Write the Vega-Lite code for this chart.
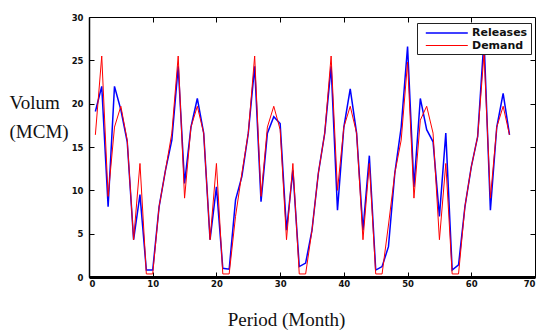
{
  "$schema": "https://vega.github.io/schema/vega-lite/v6.json",
  "width": 446,
  "height": 260,
  "autosize": {"type": "none"},
  "padding": {"left": 89, "top": 17, "right": 9, "bottom": 54},
  "background": "white",
  "config": {
    "view": {"stroke": "black", "strokeWidth": 1},
    "axis": {
      "grid": false,
      "labelFont": "DejaVu Sans",
      "labelFontSize": 8.5,
      "labelFontWeight": "bold",
      "labelColor": "#111",
      "domainColor": "black",
      "tickColor": "black",
      "titleFont": "Liberation Serif",
      "titleFontSize": 19,
      "titleFontWeight": "normal",
      "titleColor": "#111"
    }
  },
  "data": {
    "values": [
      {"month": 1, "Releases": 19.1, "Demand": 16.4},
      {"month": 2, "Releases": 22.0, "Demand": 25.5},
      {"month": 3, "Releases": 8.1, "Demand": 9.3},
      {"month": 4, "Releases": 22.0, "Demand": 17.3},
      {"month": 5, "Releases": 19.3, "Demand": 19.7},
      {"month": 6, "Releases": 15.6, "Demand": 15.8},
      {"month": 7, "Releases": 4.3, "Demand": 4.3},
      {"month": 8, "Releases": 9.5, "Demand": 13.1},
      {"month": 9, "Releases": 0.8, "Demand": 0.35},
      {"month": 10, "Releases": 0.8, "Demand": 0.35},
      {"month": 11, "Releases": 8.1, "Demand": 8.1},
      {"month": 12, "Releases": 12.3, "Demand": 12.3},
      {"month": 13, "Releases": 15.8, "Demand": 16.6},
      {"month": 14, "Releases": 24.3, "Demand": 25.5},
      {"month": 15, "Releases": 10.8, "Demand": 9.1},
      {"month": 16, "Releases": 17.3, "Demand": 17.3},
      {"month": 17, "Releases": 20.6, "Demand": 19.7},
      {"month": 18, "Releases": 16.6, "Demand": 16.6},
      {"month": 19, "Releases": 4.3, "Demand": 4.3},
      {"month": 20, "Releases": 10.4, "Demand": 13.1},
      {"month": 21, "Releases": 1.0, "Demand": 0.35},
      {"month": 22, "Releases": 0.9, "Demand": 0.35},
      {"month": 23, "Releases": 8.9, "Demand": 7.0},
      {"month": 24, "Releases": 11.6, "Demand": 12.0},
      {"month": 25, "Releases": 16.6, "Demand": 16.6},
      {"month": 26, "Releases": 24.3, "Demand": 25.5},
      {"month": 27, "Releases": 8.7, "Demand": 9.3},
      {"month": 28, "Releases": 16.6, "Demand": 17.3},
      {"month": 29, "Releases": 18.5, "Demand": 19.7},
      {"month": 30, "Releases": 17.7, "Demand": 17.0},
      {"month": 31, "Releases": 5.4, "Demand": 4.3},
      {"month": 32, "Releases": 12.3, "Demand": 13.1},
      {"month": 33, "Releases": 1.2, "Demand": 0.35},
      {"month": 34, "Releases": 1.6, "Demand": 0.35},
      {"month": 35, "Releases": 5.4, "Demand": 5.4},
      {"month": 36, "Releases": 12.0, "Demand": 12.0},
      {"month": 37, "Releases": 16.6, "Demand": 16.6},
      {"month": 38, "Releases": 24.3, "Demand": 25.5},
      {"month": 39, "Releases": 7.7, "Demand": 10.0},
      {"month": 40, "Releases": 17.3, "Demand": 17.3},
      {"month": 41, "Releases": 21.7, "Demand": 19.7},
      {"month": 42, "Releases": 16.6, "Demand": 16.6},
      {"month": 43, "Releases": 5.4, "Demand": 4.3},
      {"month": 44, "Releases": 14.0, "Demand": 13.1},
      {"month": 45, "Releases": 0.8, "Demand": 0.35},
      {"month": 46, "Releases": 1.2, "Demand": 0.35},
      {"month": 47, "Releases": 3.5, "Demand": 6.0},
      {"month": 48, "Releases": 12.0, "Demand": 12.0},
      {"month": 49, "Releases": 17.3, "Demand": 15.8},
      {"month": 50, "Releases": 26.6, "Demand": 24.8},
      {"month": 51, "Releases": 10.4, "Demand": 9.1},
      {"month": 52, "Releases": 20.6, "Demand": 18.1},
      {"month": 53, "Releases": 17.0, "Demand": 19.7},
      {"month": 54, "Releases": 15.6, "Demand": 16.6},
      {"month": 55, "Releases": 7.0, "Demand": 4.3},
      {"month": 56, "Releases": 16.6, "Demand": 13.1},
      {"month": 57, "Releases": 0.8, "Demand": 0.35},
      {"month": 58, "Releases": 1.4, "Demand": 0.35},
      {"month": 59, "Releases": 8.1, "Demand": 8.1},
      {"month": 60, "Releases": 12.7, "Demand": 12.7},
      {"month": 61, "Releases": 16.2, "Demand": 16.2},
      {"month": 62, "Releases": 27.5, "Demand": 25.8},
      {"month": 63, "Releases": 7.7, "Demand": 9.1},
      {"month": 64, "Releases": 17.3, "Demand": 17.3},
      {"month": 65, "Releases": 21.2, "Demand": 19.7},
      {"month": 66, "Releases": 16.4, "Demand": 16.4}
    ]
  },
  "transform": [{"fold": ["Releases", "Demand"], "as": ["series", "value"]}],
  "layer": [
    {
      "mark": {"type": "line", "clip": true},
      "encoding": {
        "x": {
          "field": "month", "type": "quantitative",
          "scale": {"domain": [0, 70], "nice": false},
          "axis": {
            "orient": "bottom", "values": [0, 10, 20, 30, 40, 50, 60, 70],
            "domainWidth": 3, "tickSize": -5, "labelPadding": 7,
            "title": "Period (Month)", "titleX": 197, "titleY": 48,
            "titleAlign": "center", "titleBaseline": "alphabetic"
          }
        },
        "y": {
          "field": "value", "type": "quantitative",
          "scale": {"domain": [0, 30], "nice": false},
          "axis": {
            "orient": "left", "values": [0, 5, 10, 15, 20, 25, 30],
            "domainWidth": 1.5, "tickSize": -5, "labelPadding": 11,
            "title": ["Volum", "(MCM)"], "titleAngle": 0,
            "titleAlign": "left", "titleBaseline": "alphabetic",
            "titleX": -80, "titleY": 91, "titleLineHeight": 29
          }
        },
        "color": {
          "field": "series", "type": "nominal",
          "scale": {"domain": ["Releases", "Demand"], "range": ["#0000ff", "#ff0000"]},
          "legend": {
            "title": null, "orient": "none", "legendX": 328, "legendY": 6,
            "strokeColor": "#222", "fillColor": "white", "padding": 3,
            "symbolType": "M-0.2,0H6.8", "symbolSize": 144,
            "labelOffset": 38, "rowPadding": 1,
            "labelFont": "DejaVu Sans", "labelFontSize": 11, "labelFontWeight": "bold",
            "labelColor": "#111"
          }
        },
        "strokeWidth": {
          "field": "series", "type": "nominal",
          "scale": {"domain": ["Releases", "Demand"], "range": [1.5, 1]},
          "legend": null
        }
      }
    },
    {
      "mark": {"type": "line", "opacity": 0},
      "encoding": {
        "x": {
          "field": "month", "type": "quantitative",
          "axis": {"orient": "top", "values": [10, 20, 30, 40, 50, 60], "labels": false, "domain": false, "tickSize": -5, "title": null}
        },
        "y": {
          "field": "value", "type": "quantitative",
          "axis": {"orient": "right", "values": [5, 10, 15, 20, 25], "labels": false, "domain": false, "tickSize": -5, "title": null}
        },
        "detail": {"field": "series"}
      }
    }
  ],
  "resolve": {"axis": {"x": "independent", "y": "independent"}}
}
